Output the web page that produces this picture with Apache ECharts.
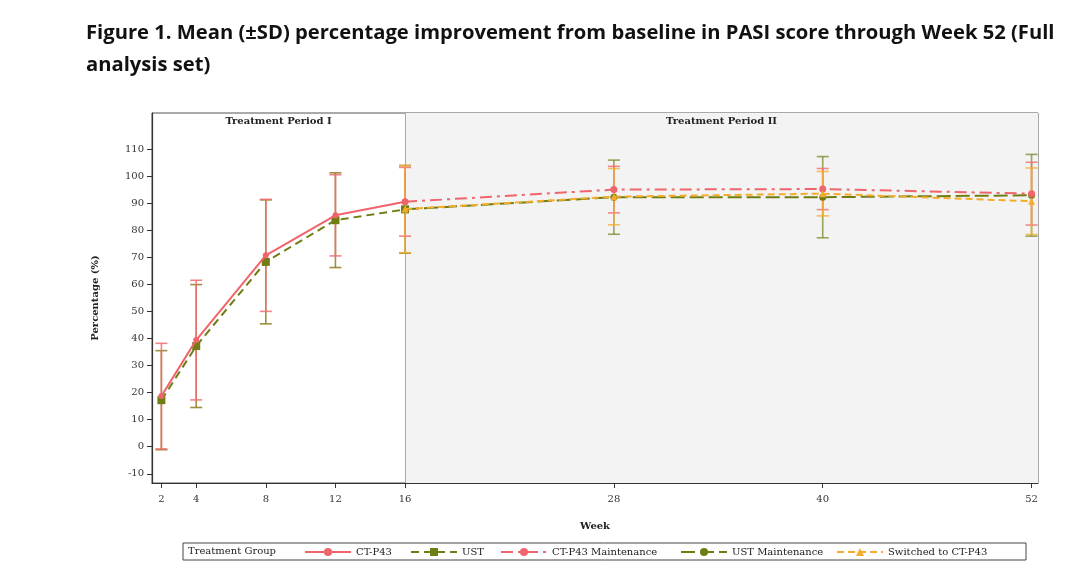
<!DOCTYPE html>
<html>
<head>
<meta charset="utf-8">
<script src="https://cdn.jsdelivr.net/npm/echarts@6/dist/echarts.min.js"></script>
<style>html,body{margin:0;padding:0;background:#fff;}#c{width:1080px;height:580px;}</style>
</head>
<body>
<div id="c"></div>
<script>
// ---- data ----
const weeksP1 = [2, 4, 8, 12, 16];
const ctMean = [18.7, 39.4, 70.7, 85.5, 90.5];
const ctSD = [19.5, 22.1, 20.7, 15.0, 12.7];
const ustMean = [17.2, 37.2, 68.3, 83.7, 87.7];
const ustSD = [18.3, 22.7, 22.9, 17.5, 16.2];

const weeksP2 = [16, 28, 40, 52];
const ctMaintMean = [90.5, 95.0, 95.2, 93.5];
const ctMaintSD = [null, 8.6, 7.6, 11.6];
const ustMaintMean = [87.7, 92.2, 92.2, 92.9];
const ustMaintSD = [null, 13.7, 15.0, 15.1];
const switchMean = [87.8, 92.4, 93.5, 90.7];
const switchSD = [16.1, 10.4, 8.2, 12.3];

const xTicks = [2, 4, 8, 12, 16, 28, 40, 52];
const yTicks = [-10, 0, 10, 20, 30, 40, 50, 60, 70, 80, 90, 100, 110];
const legendNames = ['CT-P43', 'UST', 'CT-P43 Maintenance', 'UST Maintenance', 'Switched to CT-P43'];

const RED = '#f0646c', OLIVE = '#6f7d12', ORANGE = '#f4ac2c';
const SERIF = '"DejaVu Serif","Liberation Serif",serif';

function pts(w, m) { return w.map((x, i) => [x, m[i]]); }
function bars(w, m, s) {
  const out = [];
  w.forEach((x, i) => { if (s[i] != null) out.push([x, m[i] - s[i], m[i] + s[i]]); });
  return out;
}
function errSeries(name, data, color) {
  return {
    type: 'custom', name: name + ' SD', silent: true, z: 3,
    data: data,
    encode: { x: 0, y: [1, 2] },
    renderItem: function (params, api) {
      const x = api.value(0);
      const lo = api.coord([x, api.value(1)]);
      const hi = api.coord([x, api.value(2)]);
      const hw = 6;
      const st = { stroke: color, lineWidth: 1.6 };
      return {
        type: 'group', children: [
          { type: 'line', shape: { x1: lo[0], y1: lo[1], x2: hi[0], y2: hi[1] }, style: st },
          { type: 'line', shape: { x1: lo[0] - hw, y1: lo[1], x2: lo[0] + hw, y2: lo[1] }, style: st },
          { type: 'line', shape: { x1: hi[0] - hw, y1: hi[1], x2: hi[0] + hw, y2: hi[1] }, style: st }
        ]
      };
    }
  };
}

const legendLefts = [304, 410, 500, 680, 836];
const legends = legendNames.map((n, i) => ({
  left: legendLefts[i], top: 547, padding: 0, itemWidth: 46, itemHeight: 10, itemGap: 0,
  textStyle: { fontFamily: SERIF, fontSize: 10, color: '#222' },
  data: [n]
}));

const chart = echarts.init(document.getElementById('c'), null, { renderer: 'canvas' });
const X_MIN = 1.46, X_MAX = 52.37;
chart.setOption({
  animation: false,
  backgroundColor: '#fff',
  title: {
    text: 'Figure 1. Mean (±SD) percentage improvement from baseline in PASI score through Week 52 (Full\nanalysis set)',
    left: 81, top: 12,
    textStyle: { fontFamily: '"Open Sans", Lato, sans-serif', fontWeight: 'bold', fontSize: 20.2, lineHeight: 32, color: '#111' }
  },
  grid: { left: 152, right: 42, top: 113, bottom: 97, show: true, borderColor: '#555', borderWidth: 1 },
  xAxis: {
    type: 'value', min: X_MIN, max: X_MAX,
    name: 'Week', nameLocation: 'middle', nameGap: 38,
    nameTextStyle: { fontFamily: SERIF, fontWeight: 'bold', fontSize: 10, color: '#222' },
    axisLine: { onZero: false, lineStyle: { color: '#333', width: 1.2 } },
    axisTick: { customValues: xTicks, length: 5, lineStyle: { color: '#333' } },
    axisLabel: { customValues: xTicks, margin: 11, fontFamily: SERIF, fontSize: 10, color: '#333' },
    splitLine: { show: false }
  },
  yAxis: {
    type: 'value', min: -13.4, max: 123.3,
    name: 'Percentage (%)', nameLocation: 'middle', nameGap: 52,
    nameTextStyle: { fontFamily: SERIF, fontWeight: 'bold', fontSize: 10, color: '#222' },
    axisLine: { show: true, onZero: false, lineStyle: { color: '#333', width: 1.2 } },
    axisTick: { show: true, customValues: yTicks, length: 5, lineStyle: { color: '#333' } },
    axisLabel: { customValues: yTicks, margin: 8, fontFamily: SERIF, fontSize: 10, color: '#333' },
    splitLine: { show: false }
  },
  legend: legends,
  graphic: [
    { type: 'rect', shape: { x: 183, y: 543, width: 843, height: 17 }, style: { fill: 'none', stroke: '#444', lineWidth: 1 } },
    { type: 'text', left: 188, top: 546, style: { text: 'Treatment Group', font: '10px ' + SERIF, fill: '#222' } }
  ],
  series: [
    {
      type: 'line', name: 'bg', silent: true, data: [], z: 0,
      markArea: {
        silent: true,
        label: { position: 'insideTop', distance: 3, fontFamily: SERIF, fontWeight: 'bold', fontSize: 10, color: '#222' },
        data: [
          [{ xAxis: X_MIN, name: 'Treatment Period I', itemStyle: { color: 'rgba(0,0,0,0)' } }, { xAxis: 16 }],
          [{ xAxis: 16, name: 'Treatment Period II', itemStyle: { color: '#f3f3f3' } }, { xAxis: X_MAX }]
        ]
      },
      markLine: {
        silent: true, symbol: 'none', label: { show: false },
        lineStyle: { color: '#a8a8a8', type: 'solid', width: 1 },
        data: [{ xAxis: 16 }]
      }
    },
    errSeries('UST', bars(weeksP1, ustMean, ustSD), 'rgba(140,125,30,0.85)'),
    errSeries('CT-P43', bars(weeksP1, ctMean, ctSD), 'rgba(240,110,115,0.85)'),
    errSeries('UST Maintenance', bars(weeksP2, ustMaintMean, ustMaintSD), 'rgba(120,135,40,0.75)'),
    errSeries('CT-P43 Maintenance', bars(weeksP2, ctMaintMean, ctMaintSD), 'rgba(240,110,115,0.8)'),
    errSeries('Switched to CT-P43', bars(weeksP2, switchMean, switchSD), 'rgba(245,175,50,0.8)'),
    {
      type: 'line', name: 'CT-P43', data: pts(weeksP1, ctMean), z: 5,
      symbol: 'circle', symbolSize: 6,
      lineStyle: { color: RED, width: 2 }, itemStyle: { color: RED }
    },
    {
      type: 'line', name: 'UST', data: pts(weeksP1, ustMean), z: 4,
      symbol: 'rect', symbolSize: 8,
      lineStyle: { color: OLIVE, width: 2, type: [8, 5] }, itemStyle: { color: OLIVE }
    },
    {
      type: 'line', name: 'CT-P43 Maintenance', data: pts(weeksP2, ctMaintMean), z: 5,
      symbol: 'circle', symbolSize: 7,
      lineStyle: { color: RED, width: 2, type: [12, 5, 3, 5] }, itemStyle: { color: RED }
    },
    {
      type: 'line', name: 'UST Maintenance', data: pts(weeksP2, ustMaintMean), z: 4,
      symbol: 'circle', symbolSize: 7,
      lineStyle: { color: OLIVE, width: 2, type: [14, 5] }, itemStyle: { color: OLIVE }
    },
    {
      type: 'line', name: 'Switched to CT-P43', data: pts(weeksP2, switchMean), z: 6,
      symbol: 'triangle', symbolSize: 7,
      lineStyle: { color: ORANGE, width: 2, type: [7, 4] }, itemStyle: { color: ORANGE }
    }
  ]
});
</script>
</body>
</html>
